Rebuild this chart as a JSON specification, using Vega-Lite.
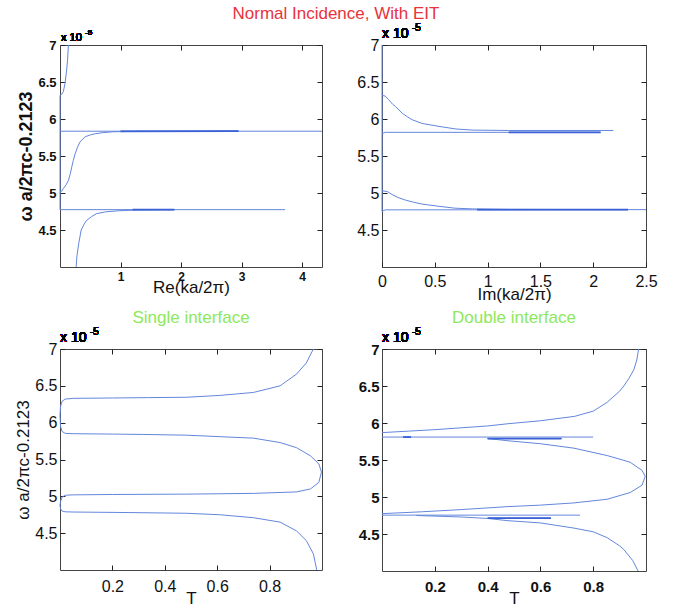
{
  "$schema": "https://vega.github.io/schema/vega-lite/v6.json",
  "background": "white",
  "padding": {"left": 14, "top": 4, "right": 10, "bottom": 2},
  "title": {"text": "Normal Incidence, With EIT", "color": "#e8323c", "fontSize": 17, "font": "Liberation Sans", "fontWeight": "normal", "anchor": "middle", "offset": 0},
  "config": {
    "font": "Liberation Sans",
    "axis": {"domain": false, "grid": false, "ticks": true, "tickColor": "#222", "tickWidth": 1, "tickOpacity": 1, "tickSize": 5, "offset": -5, "labelFont": "Liberation Sans", "titleFont": "Liberation Sans", "labelColor": "#111", "titleColor": "#111", "labelFlush": false, "labelOverlap": false, "format": "~g", "zindex": 1},
    "view": {"stroke": "#444", "strokeWidth": 1},
    "line": {"color": "#6386dc", "strokeWidth": 1, "clip": true},
    "title": {"font": "Liberation Sans"}
  },
  "bounds": "flush",
  "columns": 2,
  "spacing": {"row": 82, "column": 60},
  "datasets": {
    "re": [
      {"s":"A","i":0,"x":0,"y":4.775},{"s":"A","i":1,"x":0,"y":6.32},{"s":"A","i":2,"x":0.03,"y":6.335},{"s":"A","i":3,"x":0.055,"y":6.37},{"s":"A","i":4,"x":0.083,"y":6.48},{"s":"A","i":5,"x":0.11,"y":6.66},{"s":"A","i":6,"x":0.125,"y":6.8},{"s":"A","i":7,"x":0.139,"y":7.0},
      {"s":"B","i":0,"x":0,"y":5.835},{"s":"B","i":1,"x":4.33,"y":5.835},
      {"s":"C","i":0,"x":0,"y":5.015},{"s":"C","i":1,"x":0.03,"y":5.025},{"s":"C","i":2,"x":0.055,"y":5.06},{"s":"C","i":3,"x":0.1,"y":5.11},{"s":"C","i":4,"x":0.139,"y":5.17},{"s":"C","i":5,"x":0.17,"y":5.26},{"s":"C","i":6,"x":0.194,"y":5.35},{"s":"C","i":7,"x":0.22,"y":5.44},{"s":"C","i":8,"x":0.25,"y":5.53},{"s":"C","i":9,"x":0.29,"y":5.62},{"s":"C","i":10,"x":0.33,"y":5.69},{"s":"C","i":11,"x":0.417,"y":5.76},{"s":"C","i":12,"x":0.5,"y":5.785},{"s":"C","i":13,"x":0.58,"y":5.8},{"s":"C","i":14,"x":0.7,"y":5.815},{"s":"C","i":15,"x":0.86,"y":5.827},{"s":"C","i":16,"x":1.2,"y":5.833},{"s":"C","i":17,"x":2.95,"y":5.835},
      {"s":"D","i":0,"x":0,"y":4.775},{"s":"D","i":1,"x":3.72,"y":4.775},
      {"s":"E","i":0,"x":0.267,"y":4.0},{"s":"E","i":1,"x":0.28,"y":4.15},{"s":"E","i":2,"x":0.31,"y":4.32},{"s":"E","i":3,"x":0.35,"y":4.5},{"s":"E","i":4,"x":0.4,"y":4.58},{"s":"E","i":5,"x":0.44,"y":4.63},{"s":"E","i":6,"x":0.52,"y":4.68},{"s":"E","i":7,"x":0.6,"y":4.72},{"s":"E","i":8,"x":0.75,"y":4.745},{"s":"E","i":9,"x":0.97,"y":4.76},{"s":"E","i":10,"x":1.3,"y":4.77},{"s":"E","i":11,"x":1.89,"y":4.775},
      {"s":"darkC","i":0,"x":1.0,"y":5.834},{"s":"darkC","i":1,"x":2.95,"y":5.835},
      {"s":"darkE","i":0,"x":1.2,"y":4.775},{"s":"darkE","i":1,"x":1.89,"y":4.775}
    ],
    "im": [
      {"s":"A","i":0,"x":0,"y":6.32},{"s":"A","i":1,"x":0.03,"y":6.31},{"s":"A","i":2,"x":0.064,"y":6.26},{"s":"A","i":3,"x":0.1,"y":6.2},{"s":"A","i":4,"x":0.127,"y":6.17},{"s":"A","i":5,"x":0.19,"y":6.08},{"s":"A","i":6,"x":0.24,"y":6.03},{"s":"A","i":7,"x":0.286,"y":5.99},{"s":"A","i":8,"x":0.38,"y":5.94},{"s":"A","i":9,"x":0.54,"y":5.9},{"s":"A","i":10,"x":0.7,"y":5.865},{"s":"A","i":11,"x":0.86,"y":5.85},{"s":"A","i":12,"x":1.2,"y":5.845},{"s":"A","i":13,"x":2.19,"y":5.845},
      {"s":"B","i":0,"x":0,"y":5.8},{"s":"B","i":1,"x":0.03,"y":5.82},{"s":"B","i":2,"x":2.07,"y":5.82},
      {"s":"C","i":0,"x":0,"y":5.03},{"s":"C","i":1,"x":0.05,"y":5.02},{"s":"C","i":2,"x":0.095,"y":4.98},{"s":"C","i":3,"x":0.15,"y":4.94},{"s":"C","i":4,"x":0.22,"y":4.905},{"s":"C","i":5,"x":0.3,"y":4.875},{"s":"C","i":6,"x":0.38,"y":4.85},{"s":"C","i":7,"x":0.54,"y":4.82},{"s":"C","i":8,"x":0.69,"y":4.795},{"s":"C","i":9,"x":0.86,"y":4.785},{"s":"C","i":10,"x":1.2,"y":4.778},{"s":"C","i":11,"x":2.5,"y":4.775},
      {"s":"D","i":0,"x":0,"y":4.75},{"s":"D","i":1,"x":0.03,"y":4.772},{"s":"D","i":2,"x":2.33,"y":4.775},
      {"s":"V","i":0,"x":0,"y":4.75},{"s":"V","i":1,"x":0,"y":7},
      {"s":"darkB","i":0,"x":1.2,"y":5.82},{"s":"darkB","i":1,"x":2.07,"y":5.82},
      {"s":"darkD","i":0,"x":0.9,"y":4.775},{"s":"darkD","i":1,"x":2.33,"y":4.775}
    ],
    "t1": [
      {"s":"S","i":0,"x":0.967,"y":7.0},{"s":"S","i":1,"x":0.94,"y":6.81},{"s":"S","i":2,"x":0.903,"y":6.66},{"s":"S","i":3,"x":0.84,"y":6.5},{"s":"S","i":4,"x":0.738,"y":6.41},{"s":"S","i":5,"x":0.61,"y":6.37},{"s":"S","i":6,"x":0.484,"y":6.345},{"s":"S","i":7,"x":0.337,"y":6.34},{"s":"S","i":8,"x":0.2,"y":6.335},{"s":"S","i":9,"x":0.05,"y":6.33},{"s":"S","i":10,"x":0.02,"y":6.32},{"s":"S","i":11,"x":0.008,"y":6.29},{"s":"S","i":12,"x":0.002,"y":6.22},{"s":"S","i":13,"x":0,"y":6.1},{"s":"S","i":14,"x":0.002,"y":5.95},{"s":"S","i":15,"x":0.008,"y":5.88},{"s":"S","i":16,"x":0.02,"y":5.855},{"s":"S","i":17,"x":0.05,"y":5.85},{"s":"S","i":18,"x":0.2,"y":5.845},{"s":"S","i":19,"x":0.32,"y":5.84},{"s":"S","i":20,"x":0.484,"y":5.83},{"s":"S","i":21,"x":0.61,"y":5.81},{"s":"S","i":22,"x":0.738,"y":5.79},{"s":"S","i":23,"x":0.84,"y":5.73},{"s":"S","i":24,"x":0.903,"y":5.66},{"s":"S","i":25,"x":0.956,"y":5.55},{"s":"S","i":26,"x":0.988,"y":5.44},{"s":"S","i":27,"x":0.998,"y":5.33},{"s":"S","i":28,"x":0.988,"y":5.19},{"s":"S","i":29,"x":0.956,"y":5.1},{"s":"S","i":30,"x":0.903,"y":5.06},{"s":"S","i":31,"x":0.738,"y":5.04},{"s":"S","i":32,"x":0.484,"y":5.03},{"s":"S","i":33,"x":0.2,"y":5.025},{"s":"S","i":34,"x":0.05,"y":5.02},{"s":"S","i":35,"x":0.02,"y":5.015},{"s":"S","i":36,"x":0.008,"y":4.99},{"s":"S","i":37,"x":0.002,"y":4.93},{"s":"S","i":38,"x":0,"y":4.88},{"s":"S","i":39,"x":0.002,"y":4.83},{"s":"S","i":40,"x":0.008,"y":4.8},{"s":"S","i":41,"x":0.02,"y":4.79},{"s":"S","i":42,"x":0.05,"y":4.787},{"s":"S","i":43,"x":0.26,"y":4.78},{"s":"S","i":44,"x":0.484,"y":4.77},{"s":"S","i":45,"x":0.61,"y":4.75},{"s":"S","i":46,"x":0.738,"y":4.71},{"s":"S","i":47,"x":0.84,"y":4.65},{"s":"S","i":48,"x":0.903,"y":4.53},{"s":"S","i":49,"x":0.94,"y":4.4},{"s":"S","i":50,"x":0.967,"y":4.22},{"s":"S","i":51,"x":0.98,"y":4.0}
    ],
    "t2": [
      {"s":"U","i":0,"x":0,"y":5.87},{"s":"U","i":1,"x":0.1,"y":5.89},{"s":"U","i":2,"x":0.2,"y":5.91},{"s":"U","i":3,"x":0.3,"y":5.935},{"s":"U","i":4,"x":0.4,"y":5.96},{"s":"U","i":5,"x":0.477,"y":5.99},{"s":"U","i":6,"x":0.6,"y":6.03},{"s":"U","i":7,"x":0.73,"y":6.09},{"s":"U","i":8,"x":0.8,"y":6.16},{"s":"U","i":9,"x":0.853,"y":6.28},{"s":"U","i":10,"x":0.9,"y":6.43},{"s":"U","i":11,"x":0.916,"y":6.5},{"s":"U","i":12,"x":0.935,"y":6.6},{"s":"U","i":13,"x":0.954,"y":6.72},{"s":"U","i":14,"x":0.965,"y":6.85},{"s":"U","i":15,"x":0.972,"y":7.0},
      {"s":"H1","i":0,"x":0,"y":5.81},{"s":"H1","i":1,"x":0.8,"y":5.81},
      {"s":"M","i":0,"x":0.4,"y":5.79},{"s":"M","i":1,"x":0.477,"y":5.76},{"s":"M","i":2,"x":0.6,"y":5.72},{"s":"M","i":3,"x":0.727,"y":5.66},{"s":"M","i":4,"x":0.853,"y":5.56},{"s":"M","i":5,"x":0.94,"y":5.47},{"s":"M","i":6,"x":0.985,"y":5.36},{"s":"M","i":7,"x":0.997,"y":5.28},{"s":"M","i":8,"x":0.985,"y":5.16},{"s":"M","i":9,"x":0.94,"y":5.06},{"s":"M","i":10,"x":0.853,"y":4.97},{"s":"M","i":11,"x":0.727,"y":4.92},{"s":"M","i":12,"x":0.6,"y":4.89},{"s":"M","i":13,"x":0.477,"y":4.87},{"s":"M","i":14,"x":0.3,"y":4.83},{"s":"M","i":15,"x":0.15,"y":4.8},{"s":"M","i":16,"x":0,"y":4.775},
      {"s":"H2","i":0,"x":0,"y":4.755},{"s":"H2","i":1,"x":0.75,"y":4.755},
      {"s":"L","i":0,"x":0.13,"y":4.75},{"s":"L","i":1,"x":0.3,"y":4.73},{"s":"L","i":2,"x":0.4,"y":4.71},{"s":"L","i":3,"x":0.477,"y":4.68},{"s":"L","i":4,"x":0.6,"y":4.65},{"s":"L","i":5,"x":0.727,"y":4.58},{"s":"L","i":6,"x":0.8,"y":4.53},{"s":"L","i":7,"x":0.853,"y":4.45},{"s":"L","i":8,"x":0.9,"y":4.34},{"s":"L","i":9,"x":0.916,"y":4.29},{"s":"L","i":10,"x":0.95,"y":4.14},{"s":"L","i":11,"x":0.97,"y":4.0},
      {"s":"darkH1","i":0,"x":0.4,"y":5.79},{"s":"darkH1","i":1,"x":0.68,"y":5.79},
      {"s":"darkB1","i":0,"x":0.08,"y":5.81},{"s":"darkB1","i":1,"x":0.11,"y":5.81},
      {"s":"darkH2","i":0,"x":0.4,"y":4.715},{"s":"darkH2","i":1,"x":0.64,"y":4.715}
    ]
  },
  "concat": [
    {
      "width": 262, "height": 222,
      "data": {"name": "re"},
      "resolve": {"axis": {"x": "independent", "y": "independent"}},
      "layer": [
        {"mark": {"type": "line"},
         "encoding": {
           "x": {"field": "x", "type": "quantitative", "scale": {"domain": [0, 4.33], "nice": false, "zero": false}, "axis": {"values": [1, 2, 3, 4], "title": "Re(ka/2π)", "titleFontSize": 17, "titleFontWeight": "normal", "labelFontSize": 12, "labelFontWeight": "bold", "labelPadding": 4, "titlePadding": -3}},
           "y": {"field": "y", "type": "quantitative", "scale": {"domain": [4, 7], "nice": false, "zero": false}, "axis": {"values": [4.5, 5, 5.5, 6, 6.5, 7], "title": "ω a/2πc-0.2123", "titleFontSize": 18, "titleFontWeight": "bold", "labelFontSize": 13, "labelFontWeight": "bold", "labelPadding": 4, "titlePadding": 2}},
           "detail": {"field": "s"},
           "order": {"field": "i"}
         }},
        {"mark": {"type": "point", "opacity": 0},
         "encoding": {"x": {"field": "x", "type": "quantitative", "axis": {"orient": "top", "values": [1, 2, 3, 4], "labels": false, "title": null}}, "y": {"field": "y", "type": "quantitative", "axis": {"orient": "right", "values": [4.5, 5, 5.5, 6, 6.5, 7], "labels": false, "title": null}}}},
        {"transform": [{"filter": "indexof(datum.s, 'dark') == 0"}],
         "mark": {"type": "line", "color": "#3a62d6", "strokeWidth": 1.8},
         "encoding": {"x": {"field": "x", "type": "quantitative", "axis": null}, "y": {"field": "y", "type": "quantitative", "axis": null}, "detail": {"field": "s"}, "order": {"field": "i"}}},
        {"mark": {"type": "text", "text": "x 10", "align": "left", "baseline": "alphabetic", "dx": 1, "dy": -4, "fontSize": 11, "font": "Liberation Sans"},
         "encoding": {"x": {"datum": 0, "axis": null}, "y": {"datum": 7, "axis": null}}},
        {"mark": {"type": "text", "text": "-5", "align": "left", "baseline": "alphabetic", "dx": 25, "dy": -10, "fontSize": 8, "font": "Liberation Sans"},
         "encoding": {"x": {"datum": 0, "axis": null}, "y": {"datum": 7, "axis": null}}}
      ]
    },
    {
      "width": 264, "height": 222,
      "data": {"name": "im"},
      "resolve": {"axis": {"x": "independent", "y": "independent"}},
      "layer": [
        {"mark": {"type": "line"},
         "encoding": {
           "x": {"field": "x", "type": "quantitative", "scale": {"domain": [0, 2.5], "nice": false, "zero": false}, "axis": {"values": [0, 0.5, 1, 1.5, 2, 2.5], "title": "Im(ka/2π)", "titleFontSize": 17, "titleFontWeight": "normal", "labelFontSize": 16, "labelPadding": 6, "titlePadding": -3}},
           "y": {"field": "y", "type": "quantitative", "scale": {"domain": [4, 7], "nice": false, "zero": false}, "axis": {"values": [4.5, 5, 5.5, 6, 6.5, 7], "title": null, "labelFontSize": 16, "labelPadding": 3}},
           "detail": {"field": "s"},
           "order": {"field": "i"}
         }},
        {"mark": {"type": "point", "opacity": 0},
         "encoding": {"x": {"field": "x", "type": "quantitative", "axis": {"orient": "top", "values": [0.5, 1, 1.5, 2], "labels": false, "title": null}}, "y": {"field": "y", "type": "quantitative", "axis": {"orient": "right", "values": [4.5, 5, 5.5, 6, 6.5, 7], "labels": false, "title": null}}}},
        {"transform": [{"filter": "indexof(datum.s, 'dark') == 0"}],
         "mark": {"type": "line", "color": "#3a62d6", "strokeWidth": 1.8},
         "encoding": {"x": {"field": "x", "type": "quantitative", "axis": null}, "y": {"field": "y", "type": "quantitative", "axis": null}, "detail": {"field": "s"}, "order": {"field": "i"}}},
        {"mark": {"type": "text", "text": "x 10", "align": "left", "baseline": "alphabetic", "dx": 0, "dy": -7, "fontSize": 14, "font": "Liberation Sans"},
         "encoding": {"x": {"datum": 0, "axis": null}, "y": {"datum": 7, "axis": null}}},
        {"mark": {"type": "text", "text": "-5", "align": "left", "baseline": "alphabetic", "dx": 30, "dy": -14, "fontSize": 10, "font": "Liberation Sans"},
         "encoding": {"x": {"datum": 0, "axis": null}, "y": {"datum": 7, "axis": null}}}
      ]
    },
    {
      "width": 262, "height": 221,
      "title": {"text": "Single interface", "color": "#8de85c", "fontSize": 17, "fontWeight": "normal", "anchor": "middle", "frame": "group", "offset": 0},
      "data": {"name": "t1"},
      "resolve": {"axis": {"x": "independent", "y": "independent"}},
      "layer": [
        {"mark": {"type": "line"},
         "encoding": {
           "x": {"field": "x", "type": "quantitative", "scale": {"domain": [0, 1], "nice": false, "zero": false}, "axis": {"values": [0.2, 0.4, 0.6, 0.8], "title": "T", "titleFontSize": 17, "titleFontWeight": "normal", "labelFontSize": 16, "labelPadding": 8, "titlePadding": -4}},
           "y": {"field": "y", "type": "quantitative", "scale": {"domain": [4, 7], "nice": false, "zero": false}, "axis": {"values": [4.5, 5, 5.5, 6, 6.5, 7], "title": "ω a/2πc-0.2123", "titleFontSize": 17, "titleFontWeight": "normal", "labelFontSize": 16, "labelPadding": 3, "titlePadding": 2}},
           "detail": {"field": "s"},
           "order": {"field": "i"}
         }},
        {"mark": {"type": "point", "opacity": 0},
         "encoding": {"x": {"field": "x", "type": "quantitative", "axis": {"orient": "top", "values": [0.2, 0.4, 0.6, 0.8], "labels": false, "title": null}}, "y": {"field": "y", "type": "quantitative", "axis": {"orient": "right", "values": [4.5, 5, 5.5, 6, 6.5, 7], "labels": false, "title": null}}}},
        {"mark": {"type": "text", "text": "x 10", "align": "left", "baseline": "alphabetic", "dx": 0, "dy": -7, "fontSize": 14, "font": "Liberation Sans"},
         "encoding": {"x": {"datum": 0, "axis": null}, "y": {"datum": 7, "axis": null}}},
        {"mark": {"type": "text", "text": "-5", "align": "left", "baseline": "alphabetic", "dx": 30, "dy": -14, "fontSize": 10, "font": "Liberation Sans"},
         "encoding": {"x": {"datum": 0, "axis": null}, "y": {"datum": 7, "axis": null}}}
      ]
    },
    {
      "width": 264, "height": 222,
      "title": {"text": "Double interface", "color": "#8de85c", "fontSize": 17, "fontWeight": "normal", "anchor": "middle", "frame": "group", "offset": 0},
      "data": {"name": "t2"},
      "resolve": {"axis": {"x": "independent", "y": "independent"}},
      "layer": [
        {"mark": {"type": "line"},
         "encoding": {
           "x": {"field": "x", "type": "quantitative", "scale": {"domain": [0, 1], "nice": false, "zero": false}, "axis": {"values": [0.2, 0.4, 0.6, 0.8], "title": "T", "titleFontSize": 17, "titleFontWeight": "normal", "labelFontSize": 15, "labelFontWeight": "bold", "labelPadding": 8, "titlePadding": -4}},
           "y": {"field": "y", "type": "quantitative", "scale": {"domain": [4, 7], "nice": false, "zero": false}, "axis": {"values": [4.5, 5, 5.5, 6, 6.5, 7], "title": null, "labelFontSize": 15, "labelFontWeight": "bold", "labelPadding": 3}},
           "detail": {"field": "s"},
           "order": {"field": "i"}
         }},
        {"mark": {"type": "point", "opacity": 0},
         "encoding": {"x": {"field": "x", "type": "quantitative", "axis": {"orient": "top", "values": [0.2, 0.4, 0.6, 0.8], "labels": false, "title": null}}, "y": {"field": "y", "type": "quantitative", "axis": {"orient": "right", "values": [4.5, 5, 5.5, 6, 6.5, 7], "labels": false, "title": null}}}},
        {"transform": [{"filter": "indexof(datum.s, 'dark') == 0"}],
         "mark": {"type": "line", "color": "#3a62d6", "strokeWidth": 1.8},
         "encoding": {"x": {"field": "x", "type": "quantitative", "axis": null}, "y": {"field": "y", "type": "quantitative", "axis": null}, "detail": {"field": "s"}, "order": {"field": "i"}}},
        {"mark": {"type": "text", "text": "x 10", "align": "left", "baseline": "alphabetic", "dx": 0, "dy": -7, "fontSize": 14, "font": "Liberation Sans"},
         "encoding": {"x": {"datum": 0, "axis": null}, "y": {"datum": 7, "axis": null}}},
        {"mark": {"type": "text", "text": "-5", "align": "left", "baseline": "alphabetic", "dx": 30, "dy": -14, "fontSize": 10, "font": "Liberation Sans"},
         "encoding": {"x": {"datum": 0, "axis": null}, "y": {"datum": 7, "axis": null}}}
      ]
    }
  ]
}
